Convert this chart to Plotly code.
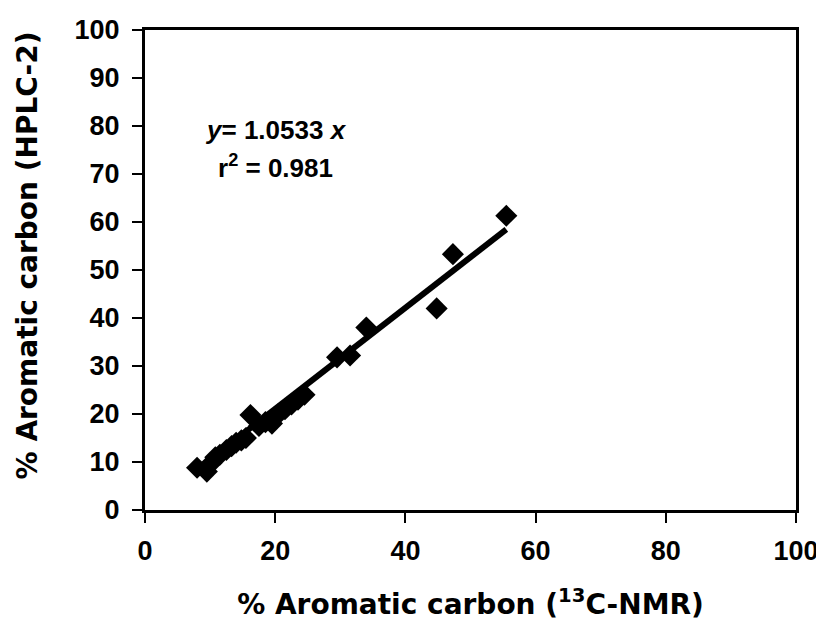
import plotly.graph_objects as go

# data
nmr = [8.0, 9.5, 10.2, 10.8, 11.5, 12.5, 13.3, 14.0, 14.8, 15.5, 16.2, 17.5, 18.5,
       19.5, 20.5, 21.5, 22.5, 23.5, 24.5, 29.5, 31.5, 34.0, 44.8, 47.3, 55.5]
hplc = [8.8, 8.0, 9.8, 11.0, 11.5, 12.5, 13.3, 14.0, 14.5, 15.0, 19.8, 17.5, 18.3,
        18.0, 20.0, 21.0, 22.0, 23.0, 24.0, 31.8, 32.2, 38.0, 42.0, 53.3, 61.3]
slope = 1.0533
fit_x = [8.0, 55.5]
fit_y = [slope * v for v in fit_x]
ticks = [0, 20, 40, 60, 80, 100]
yticks = [0, 10, 20, 30, 40, 50, 60, 70, 80, 90, 100]

FONT = "Arial, 'Liberation Sans', sans-serif"
TFONT = "'DejaVu Sans', Arial, sans-serif"

fig = go.Figure()
fig.add_trace(go.Scatter(x=nmr, y=hplc, mode="markers",
                         marker=dict(symbol="diamond", size=17, color="black"),
                         showlegend=False))
fig.add_trace(go.Scatter(x=fit_x, y=fit_y, mode="lines",
                         line=dict(color="black", width=6), showlegend=False))

fig.add_annotation(x=0.201, y=0.792, xref="paper", yref="paper",
                   xanchor="center", yanchor="middle",
                   text="<i>y</i>= 1.0533<i> x</i>", showarrow=False,
                   font=dict(family=FONT, size=26, color="black", weight="bold"))
fig.add_annotation(x=0.201, y=0.715, xref="paper", yref="paper",
                   xanchor="center", yanchor="middle",
                   text="r<sup>2</sup> = 0.981", showarrow=False,
                   font=dict(family=FONT, size=26, color="black", weight="bold"))
# y-axis title placed as rotated text
fig.add_annotation(x=-0.18, y=0.53, xref="paper", yref="paper",
                   xanchor="center", yanchor="middle", textangle=-90,
                   text="% Aromatic carbon (HPLC-2)", showarrow=False,
                   font=dict(family=TFONT, size=28, color="black", weight="bold"))

axis_common = dict(range=[0, 100], ticks="outside", ticklen=10, tickwidth=2,
                   tickcolor="black", showline=True, linewidth=3, linecolor="black",
                   mirror=True, showgrid=False, zeroline=False, automargin=False,
                   tickfont=dict(size=27, family=FONT, weight="bold", color="black"))

fig.update_layout(
    width=816, height=616,
    margin=dict(l=137, r=28, t=22, b=114),
    paper_bgcolor="white", plot_bgcolor="white",
    font=dict(family=FONT, size=24, color="black"),
    xaxis=dict(tickvals=ticks, ticklabelstandoff=5, **axis_common,
               title=dict(text="% Aromatic carbon (<sup>13</sup>C-NMR)",
                          font=dict(size=28, family=TFONT, weight="bold"), standoff=29)),
    yaxis=dict(tickvals=yticks, ticklabelstandoff=7, **axis_common),
)

fig.write_html("out.html")
